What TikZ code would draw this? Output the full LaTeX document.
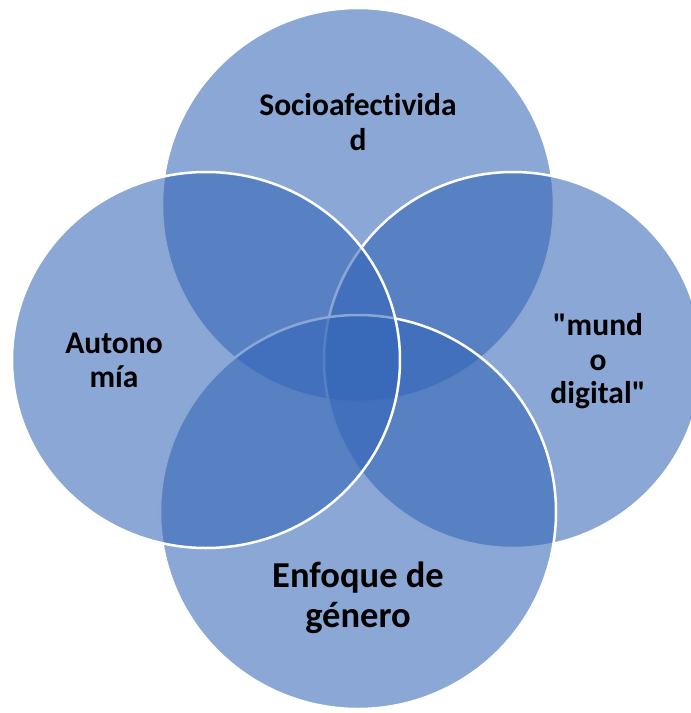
\documentclass[tikz,border=0pt]{standalone}
\usepackage{fontspec}
\setmainfont{Carlito}[Ligatures={TeXOff,CommonOff}]
\definecolor{vennblue}{RGB}{50,100,182}
\tikzset{
  venn/.style={fill=vennblue, fill opacity=0.57, draw=white, line width=2.5pt},
  lbl/.style={anchor=base, inner sep=0pt, font=\bfseries\fontsize{31.5}{36}\selectfont, text=black},
  lblbig/.style={anchor=base, inner sep=0pt, font=\bfseries\fontsize{36.5}{40}\selectfont, text=black}
}
\begin{document}
\begin{tikzpicture}[x=1pt,y=-1pt]
\useasboundingbox (0,0) rectangle (691,713);
% circles, in drawing order: top, right, bottom, left
\path[venn] (358,205) ellipse [x radius=196pt, y radius=197pt];
\path[venn] (513,360) ellipse [x radius=189pt, y radius=188pt];
\path[venn] (358,512) ellipse [x radius=198pt, y radius=197pt];
\path[venn] (206,360) ellipse [x radius=194pt, y radius=188pt];
% labels
\node[lbl] (soc1) at (358,115) {Socioafectivida};
\node[lbl] (soc2) at (358,150) {d};
\node[lbl] (aut1) at (114,353) {Autono};
\node[lbl] (aut2) at (114,387) {mía};
\node[lbl] (mun1) at (598,335) {"mund};
\node[lbl] (mun2) at (598,370) {o};
\node[lbl] (mun3) at (598,403) {digital"};
\node[lblbig] (gen1) at (358,587) {Enfoque de};
\node[lblbig] (gen2) at (358,627) {género};
\end{tikzpicture}
\end{document}
